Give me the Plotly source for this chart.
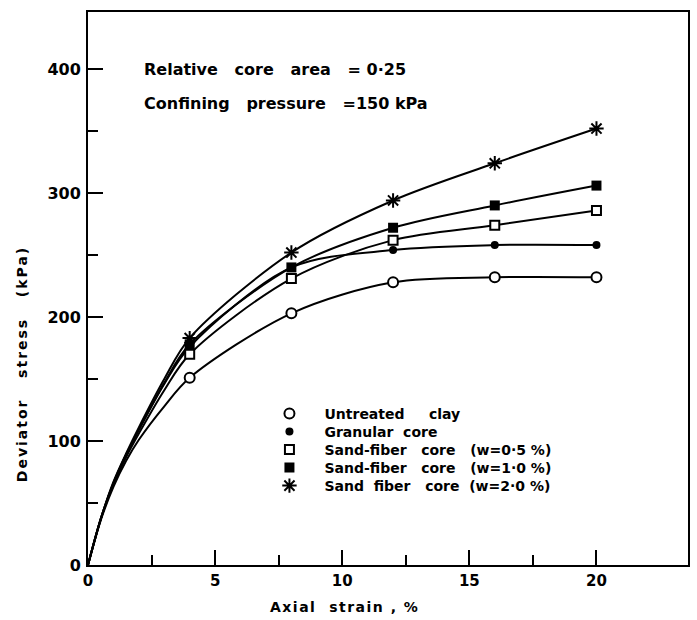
import plotly.graph_objects as go

# ---- data ----
strain_pts = [4, 8, 12, 16, 20]
untreated = [151, 203, 228, 232, 232]
granular = [176, 240, 254, 258, 258]
sf_05 = [170, 231, 262, 274, 286]
sf_10 = [178, 240, 272, 290, 306]
sf_20 = [183, 252, 294, 324, 352]

# fitted-curve readings near the origin (strain 0, 0.5, 1, 1.5, 2, 3 %)
curve_strain_early = [0, 0.5, 1, 1.5, 2, 3]
untreated_early = [0, 36, 63, 84, 101, 128]
granular_early = [0, 37, 66, 89, 109, 146]
sf_05_early = [0, 37, 65, 87, 106, 141]
sf_10_early = [0, 37, 66, 89, 109, 147]
sf_20_early = [0, 37, 67, 90, 111, 150]

names = [
    "Untreated     clay",
    "Granular  core",
    "Sand-fiber   core   (w=0·5 %)",
    "Sand-fiber   core   (w=1·0 %)",
    "Sand  fiber   core  (w=2·0 %)",
]
series = [untreated, granular, sf_05, sf_10, sf_20]
early = [untreated_early, granular_early, sf_05_early, sf_10_early, sf_20_early]

x_ticks = [0, 5, 10, 15, 20]
x_minor = [2.5, 7.5, 12.5, 17.5]
y_ticks = [0, 100, 200, 300, 400]
y_minor = [50, 150, 250, 350]

FONT = "DejaVu Sans"
BLACK = "black"
symbols = [
    dict(symbol="circle", size=10, color="white", line=dict(width=2, color=BLACK)),
    dict(symbol="circle", size=8, color=BLACK, line=dict(width=0)),
    dict(symbol="square", size=9, color="white", line=dict(width=2, color=BLACK)),
    dict(symbol="square", size=10, color=BLACK, line=dict(width=0)),
    dict(symbol="asterisk-open", size=12, color=BLACK, line=dict(width=2, color=BLACK)),
]

fig = go.Figure()
for vals, ev in zip(series, early):
    fig.add_trace(go.Scatter(
        x=curve_strain_early + strain_pts, y=ev + vals, mode="lines",
        line=dict(color=BLACK, width=2, shape="spline", smoothing=0.9),
        showlegend=False, hoverinfo="skip"))

legend_rows_px = [414, 432, 450, 468, 486]
for i, (name, vals, sym) in enumerate(zip(names, series, symbols)):
    lg = "legend" if i == 0 else f"legend{i + 1}"
    fig.add_trace(go.Scatter(
        x=strain_pts, y=vals, mode="markers", name=name,
        marker=sym, showlegend=True, legend=lg))

legend_common = dict(
    xanchor="left", yanchor="middle", bgcolor="rgba(0,0,0,0)",
    borderwidth=0, itemwidth=60,
    font=dict(family=FONT, size=14, color=BLACK, weight="bold"),
)
legend_layout = {}
for i, row in enumerate(legend_rows_px):
    key = "legend" if i == 0 else f"legend{i + 1}"
    legend_layout[key] = dict(x=(255 - 88) / 602, y=(565 - row) / 553, **legend_common)

ann_font = dict(family=FONT, size=16, color=BLACK, weight="bold")
fig.add_annotation(text="Relative   core   area   = 0·25", x=(142 - 88) / 602, y=(565 - 70) / 553,
                   xref="paper", yref="paper", xanchor="left", yanchor="middle",
                   showarrow=False, font=ann_font)
fig.add_annotation(text="Confining   pressure   =150 kPa", x=(142 - 88) / 602, y=(565 - 103) / 553,
                   xref="paper", yref="paper", xanchor="left", yanchor="middle",
                   showarrow=False, font=ann_font)
title_font = dict(family=FONT, size=14, color=BLACK, weight="bold")
fig.add_annotation(text='<span style="letter-spacing:1.5px">Axial  strain , %</span>',
                   x=(345 - 88) / 602, y=(565 - 607) / 553,
                   xref="paper", yref="paper", xanchor="center", yanchor="middle",
                   showarrow=False, font=title_font)
fig.add_annotation(text='<span style="letter-spacing:2px">Deviator   stress   (kPa)</span>',
                   x=(22 - 88) / 602, y=(565 - 364) / 553,
                   xref="paper", yref="paper", xanchor="center", yanchor="middle",
                   textangle=-90, showarrow=False, font=title_font)

axis_common = dict(
    showgrid=False, zeroline=False, showline=True, linecolor=BLACK, linewidth=2,
    mirror=True, ticks="inside", tickcolor=BLACK, tickwidth=2, ticklen=15,
)
fig.update_xaxes(range=[0, 23.6], tickmode="array", tickvals=x_ticks,
                 tickfont=dict(family=FONT, size=15, color=BLACK, weight="bold"),
                 ticklabelstandoff=1,
                 minor=dict(ticks="inside", tickmode="array", tickvals=x_minor,
                            ticklen=10, tickwidth=2, tickcolor=BLACK),
                 **axis_common)
fig.update_yaxes(range=[0, 446], tickmode="array", tickvals=y_ticks,
                 tickfont=dict(family=FONT, size=16, color=BLACK, weight="bold"),
                 ticklabelstandoff=2,
                 minor=dict(ticks="inside", tickmode="array", tickvals=y_minor,
                            ticklen=10, tickwidth=2, tickcolor=BLACK),
                 **axis_common)

fig.update_layout(
    width=697, height=620,
    margin=dict(l=88, r=7, t=12, b=55),
    paper_bgcolor="white", plot_bgcolor="white",
    font=dict(family=FONT, color=BLACK),
    **legend_layout,
)

fig.write_html("out.html")
